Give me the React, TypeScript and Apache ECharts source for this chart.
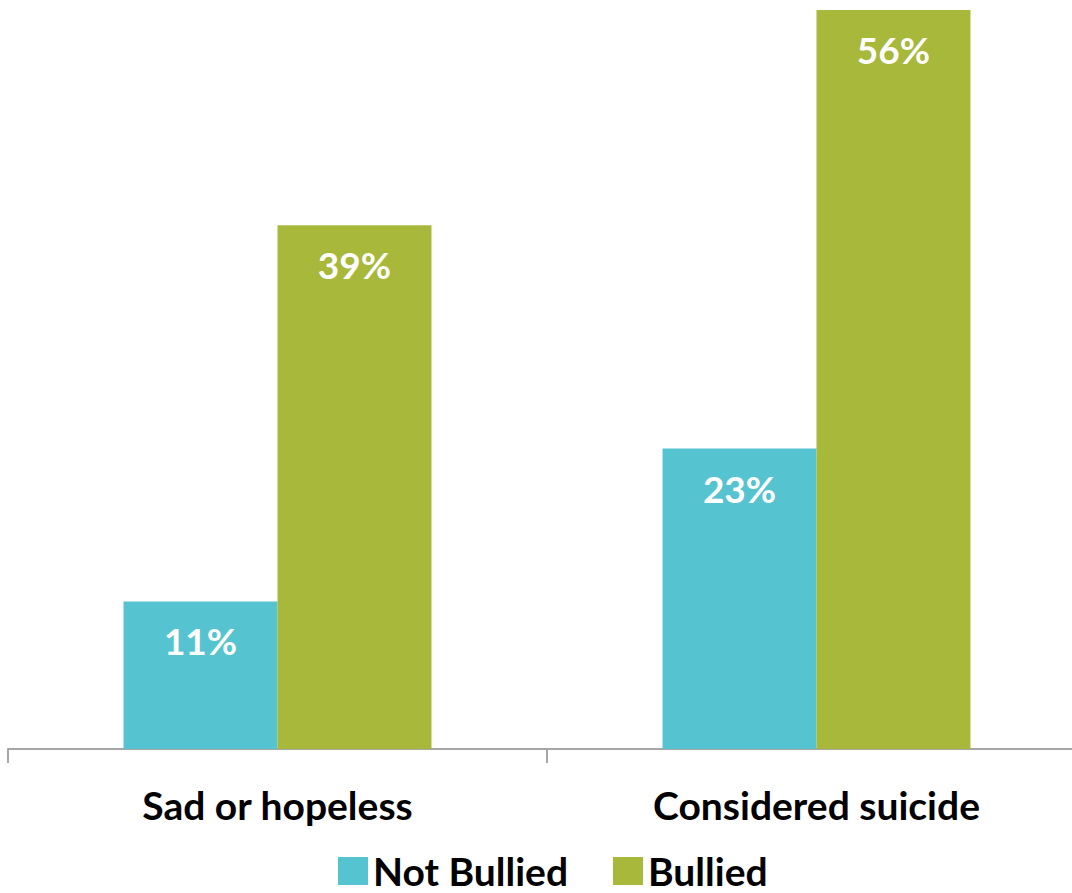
import React, { useEffect, useRef } from "react";
import * as echarts from "echarts";

const categories = ["Sad or hopeless", "Considered suicide"];
const notBullied = [11.1, 22.6];
const bullied = [39.4, 55.6];
const seriesNames = ["Not Bullied", "Bullied"];
const colors = ["#56C4D0", "#A8B83B"];
const FONT = "Lato, 'Open Sans', sans-serif";

export default function App() {
  const ref = useRef<HTMLDivElement>(null);
  useEffect(() => {
    if (!ref.current) return;
    const chart = echarts.init(ref.current, undefined, { renderer: "svg" });
    const label = {
      show: true,
      position: "insideTop",
      distance: 21,
      color: "#FFFFFF",
      fontFamily: FONT,
      fontWeight: "bold",
      fontSize: 37,
      formatter: (p: any) => Math.round(p.value) + "%",
    };
    chart.setOption({
      animation: false,
      backgroundColor: "#FFFFFF",
      grid: { left: 8, top: 10, width: 1078, bottom: 144, containLabel: false },
      legend: {
        top: 851,
        left: 338,
        itemWidth: 30,
        itemHeight: 28,
        itemGap: 45,
        padding: 0,
        icon: "rect",
        textStyle: { fontFamily: FONT, fontWeight: "bold", fontSize: 39, color: "#000", lineHeight: 40 },
        data: seriesNames,
      },
      xAxis: {
        type: "category",
        data: categories,
        axisLine: { lineStyle: { color: "#A6A6A6", width: 2 } },
        axisTick: { show: true, length: 14, lineStyle: { color: "#A6A6A6", width: 2 } },
        axisLabel: {
          fontFamily: FONT,
          fontWeight: "bold",
          fontSize: 39,
          color: "#000",
          margin: 36,
        },
      },
      yAxis: {
        type: "value",
        min: 0,
        max: "dataMax",
        show: false,
        splitLine: { show: false },
      },
      series: [
        {
          name: seriesNames[0],
          type: "bar",
          data: notBullied,
          itemStyle: { color: colors[0] },
          barGap: "0%",
          barCategoryGap: "42.86%",
          label,
        },
        {
          name: seriesNames[1],
          type: "bar",
          data: bullied,
          itemStyle: { color: colors[1] },
          barGap: "0%",
          barCategoryGap: "42.86%",
          label,
        },
      ],
    });
    return () => chart.dispose();
  }, []);
  return (
    <div style={{ position: "absolute", left: 0, top: 0, width: 1072, height: 893, overflow: "hidden" }}>
      <div ref={ref} style={{ width: 1100, height: 893 }} />
    </div>
  );
}
